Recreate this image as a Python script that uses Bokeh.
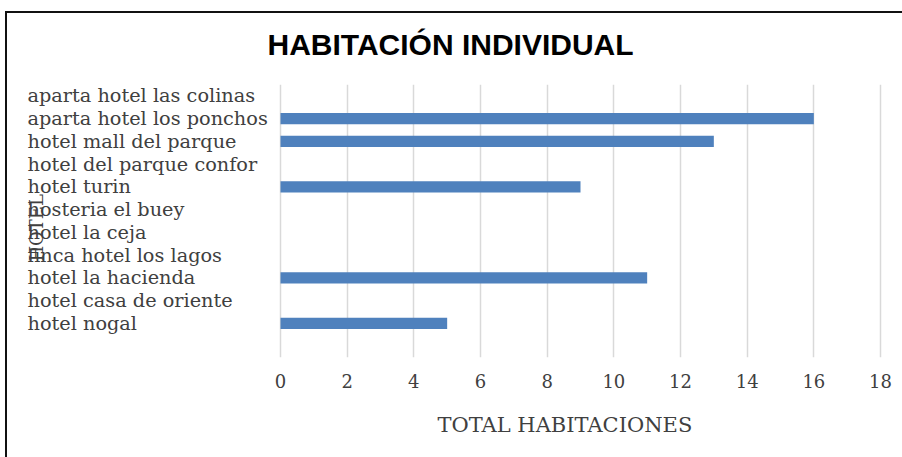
import math
from bokeh.plotting import figure
from bokeh.models import ColumnDataSource, Range1d, FixedTicker, Title
from bokeh.core.properties import value
from bokeh.embed import file_html
from bokeh.resources import INLINE

hotels = [
    "aparta hotel las colinas",
    "aparta hotel los ponchos",
    "hotel mall del parque",
    "hotel del parque confor",
    "hotel turin",
    "hosteria el buey",
    "hotel la ceja",
    "finca hotel los lagos",
    "hotel la hacienda",
    "hotel casa de oriente",
    "hotel nogal",
]
rooms = [0, 16, 13, 0, 9, 0, 0, 0, 11, 0, 5]
x_ticks = [0, 2, 4, 6, 8, 10, 12, 14, 16, 18]

chart_title = "HABITACIÓN INDIVIDUAL"
x_title = "TOTAL HABITACIONES"
y_title = "HOTEL"

# layout constants (data-space positions of the left text column)
LABEL_X = -7.59
YTITLE_X = -7.32
YTITLE_Y = 5.8

pos = list(range(len(hotels)))
source = ColumnDataSource(dict(hotel=hotels, rooms=rooms, pos=pos,
                               lx=[LABEL_X] * len(hotels)))

chart_box = ("linear-gradient(#111111, #111111) 5px 11px / 897px 2px no-repeat, "
             "linear-gradient(#111111, #111111) 5px 11px / 2px 446px no-repeat, "
             "#ffffff")

p = figure(
    width=902, height=457,
    x_range=Range1d(-7.8, 18.06),
    y_range=Range1d(len(hotels) + 0.5, -0.5),
    output_backend="svg", toolbar_location=None,
    min_border_left=20, min_border_right=20,
    min_border_top=84, min_border_bottom=99,
    styles={"background": chart_box},
)
p.title = Title(text=chart_title, align="left", offset=247,
                text_font="Liberation Sans", text_font_size="30px",
                text_font_style="bold", text_color="#000000", standoff=48)

p.hbar(y="pos", right="rooms", left=0, height=0.5, source=source,
       fill_color="#4F81BD", line_color=None)

p.text(x="lx", y="pos", text="hotel", source=source,
       text_align="left", text_baseline="middle",
       text_font=value("DejaVu Serif"), text_font_size="19.3px",
       text_color="#404040")

p.text(x=[YTITLE_X], y=[YTITLE_Y], text=[y_title], angle=math.pi / 2,
       text_align="center", text_baseline="middle",
       text_font=value("DejaVu Serif"), text_font_size="18px",
       text_color="#404040")

p.outline_line_color = None
p.background_fill_color = "white"
p.border_fill_color = None

p.xaxis.ticker = FixedTicker(ticks=x_ticks)
p.xaxis.axis_line_color = None
p.xaxis.major_tick_line_color = None
p.xaxis.minor_tick_line_color = None
p.xaxis.major_tick_out = 0
p.xaxis.major_tick_in = 0
p.xaxis.major_label_standoff = 16
p.xaxis.major_label_text_font = "DejaVu Serif"
p.xaxis.major_label_text_font_size = "18px"
p.xaxis.major_label_text_color = "#404040"

p.add_layout(Title(text=x_title, align="left", offset=417,
                   text_font="DejaVu Serif", text_font_size="21px",
                   text_font_style="normal", text_color="#404040",
                   standoff=41), "below")

p.yaxis.visible = False

p.xgrid.ticker = FixedTicker(ticks=x_ticks)
p.xgrid.grid_line_color = "#d9d9d9"
p.xgrid.grid_line_width = 1.5
p.ygrid.grid_line_color = None

open("out.html", "w").write(file_html(p, INLINE))
